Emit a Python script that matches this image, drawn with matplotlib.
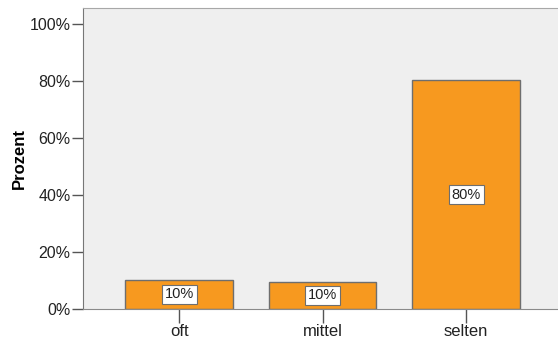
import matplotlib.pyplot as plt

plt.rcParams['font.family'] = ['Liberation Sans', 'DejaVu Sans']

# Antwortkategorien und Anteile in Prozent
categories = ["oft", "mittel", "selten"]
percent = [10.2, 9.5, 80.3]

fig = plt.figure(figsize=(5.58, 3.41), dpi=100)
ax = fig.add_axes([0.1487, 0.0938, 0.8513, 0.8827])
ax.set_facecolor('#efefef')

x = range(len(categories))
bars = ax.bar(x, percent, width=0.75, color='#f7991f', edgecolor='#6e6e6e', linewidth=1)

# Wert in die Mitte jedes Balkens schreiben
for b, v in zip(bars, percent):
    ax.text(b.get_x() + b.get_width() / 2, v / 2, f"{v:.0f}%",
            ha='center', va='center', fontsize=10.5, color='#222222',
            bbox=dict(boxstyle='square,pad=0.2', facecolor='white',
                      edgecolor='#6e6e6e', linewidth=0.8))

ax.set_xlim(-0.67, 2.64)
ax.set_ylim(0, 105.6)
ax.set_xticks(list(x))
ax.set_xticklabels(categories, fontsize=12)
ax.set_yticks([0, 20, 40, 60, 80, 100])
ax.set_yticklabels([f"{t}%" for t in [0, 20, 40, 60, 80, 100]], fontsize=11.5)
ax.tick_params(axis='both', colors='#555555', labelcolor='#222222', width=1)
ax.tick_params(axis='x', length=10, pad=1)
ax.tick_params(axis='y', length=8, pad=1)

ax.spines['left'].set_color('#777777')
ax.spines['bottom'].set_color('#8a8a8a')
ax.spines['top'].set_color('#a8a8a8')
ax.spines['right'].set_visible(False)

ax.set_ylabel("Prozent", fontsize=12, fontweight='bold', labelpad=2)

fig.savefig("out.png", dpi=100)
